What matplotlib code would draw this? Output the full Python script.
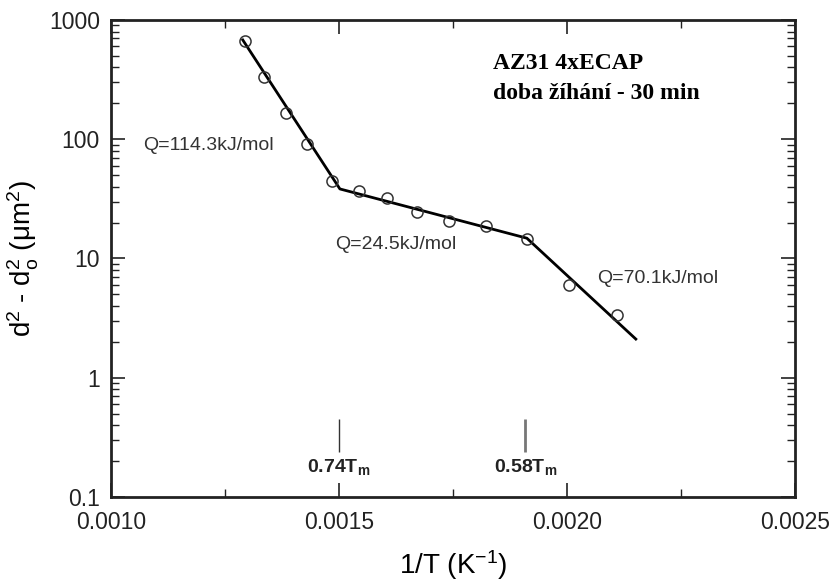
import matplotlib
matplotlib.use('Agg')
import matplotlib.pyplot as plt
from matplotlib.ticker import FixedLocator, FuncFormatter, LogLocator, NullFormatter

plt.rcParams['font.family'] = ['Liberation Sans', 'DejaVu Sans']
plt.rcParams['mathtext.default'] = 'regular'

# measured points (1/T in K^-1, d^2 - d0^2 in um^2)
inv_T = [0.001294, 0.001336, 0.001383, 0.001429, 0.001485, 0.001544, 0.001606,
         0.001670, 0.001742, 0.001822, 0.001912, 0.002005, 0.002110]
dd2 = [670, 331, 165, 91.2, 44.7, 36.8, 32.4, 24.5, 20.5, 18.6, 14.7, 6.0, 3.36]

# piecewise Arrhenius fit
fit_x = [0.001289, 0.001502, 0.001912, 0.002151]
fit_y = [680, 38.3, 14.8, 2.11]

q_labels = ['Q=114.3kJ/mol', 'Q=24.5kJ/mol', 'Q=70.1kJ/mol']
q_x = [0.001070, 0.001491, 0.002066]
q_y = [87.8, 13.2, 6.86]

tm_labels = ['0.74T$_m$', '0.58T$_m$']
tm_x = [0.0015, 0.001909]

fig = plt.figure(figsize=(8.32, 5.81), dpi=100)
ax = fig.add_axes([0.1334, 0.1446, 0.8221, 0.821])

ax.plot(fit_x, fit_y, color='black', lw=2)
ax.plot(inv_T, dd2, 'o', mfc='none', mec='#333333', ms=8, mew=1.1)

ax.set_yscale('log')
ax.set_xlim(0.001, 0.0025)
ax.set_ylim(0.1, 1000)

ax.xaxis.set_major_locator(FixedLocator([0.0010, 0.0015, 0.0020, 0.0025]))
ax.xaxis.set_minor_locator(FixedLocator([0.00125, 0.00175, 0.00225]))
ax.xaxis.set_major_formatter(FuncFormatter(lambda v, p: '%.4f' % v))
ax.yaxis.set_major_locator(LogLocator(base=10))
ax.yaxis.set_minor_locator(LogLocator(base=10, subs=range(2, 10)))
ax.yaxis.set_minor_formatter(NullFormatter())
ax.yaxis.set_major_formatter(FuncFormatter(lambda v, p: '%g' % v))

ax.tick_params(which='both', direction='in', top=True, right=True, labelsize=16.5,
               color='#222222', labelcolor='#222222')
ax.tick_params(which='major', length=10, width=1.2)
ax.tick_params(which='minor', length=6, width=1.0)
ax.tick_params(axis='x', pad=10)
ax.tick_params(axis='y', pad=8)
for s in ax.spines.values():
    s.set_linewidth(2)
    s.set_color('#222222')

ax.set_xlabel('1/T (K$^{-1}$)', fontsize=20, labelpad=10)
ax.set_ylabel('d$^2$ - d$_o^2$ (μm$^2$)', fontsize=20, labelpad=6)

for lab, x, y in zip(q_labels, q_x, q_y):
    ax.text(x, y, lab, fontsize=14, color='#333333', ha='left', va='center')

ax.vlines(tm_x[0], 0.238, 0.451, color='#333333', lw=1.0)
ax.vlines(tm_x[1], 0.238, 0.451, color='#777777', lw=2.0)
for lab, x in zip(tm_labels, tm_x):
    ax.text(x, 0.179, lab, fontsize=14, fontweight='bold', color='#222222',
            ha='center', va='center')

ax.text(0.001838, 433, 'AZ31 4xECAP', family='Liberation Serif', fontweight='bold',
        fontsize=17, ha='left', va='center')
ax.text(0.001838, 244, 'doba žíhání - 30 min', family='Liberation Serif', fontweight='bold',
        fontsize=17, ha='left', va='center')

fig.savefig('out.png', dpi=100)
